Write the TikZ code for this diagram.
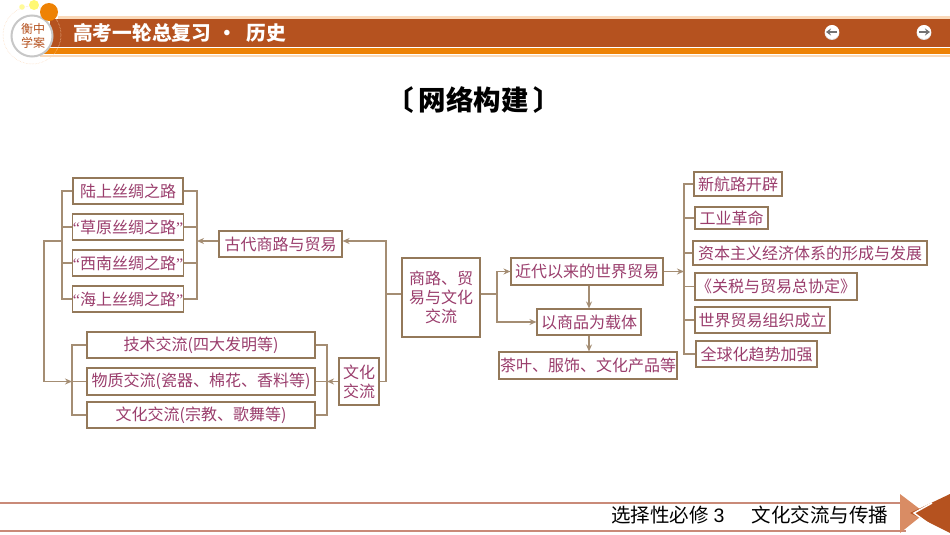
\documentclass[tikz,border=0pt]{standalone}
\usepackage{fontspec}
\setmainfont{Noto Sans CJK SC}
\newfontfamily\latinfont{Liberation Serif}
\newfontfamily\numberfont{Liberation Sans}
\usetikzlibrary{arrows.meta}
\definecolor{bandbrown}{HTML}{B5521F}
\definecolor{bandorange}{HTML}{EE8204}
\definecolor{bandpeach}{HTML}{FAD9B9}
\definecolor{footline}{HTML}{C98A78}
\definecolor{footlight}{HTML}{D98C64}
\definecolor{boxline}{HTML}{94795A}
\definecolor{boxtext}{HTML}{9A3D6C}
\tikzset{
	item/.style={draw=boxline, line width=1.1pt, fill=white, text=boxtext, inner sep=0pt, align=center,
		minimum width=#1, minimum height=26pt, font=\fontsize{16}{19}\selectfont},
	link/.style={draw=boxline!85, line width=1.2pt},
	linkarrow/.style={link, -{Stealth[length=7pt,width=6pt]}},
}
\def\quoteL{{\latinfont “}}
\def\quoteR{{\latinfont ”}}

\begin{document}
\begin{tikzpicture}[x=1pt, y=-1pt]
			%%%%% START %%%%%
			\useasboundingbox (0, 0) rectangle (950, 535);
			
			\fill[color=bandpeach] (58, 16) rectangle (950, 19);
			\fill[color=bandbrown] (50, 19) rectangle (950, 47);
			\fill[color=bandorange] (40, 48) rectangle (950, 54);
			\fill[color=bandpeach] (40, 55) rectangle (950, 57);
			
			\draw[color=bandpeach, line width=0.5pt, densely dotted] (32, 35) circle (29);
			\draw[color=black!22, line width=2pt, fill=white] (32, 36) circle (20.5);
			\fill[color=bandorange] (49, 12) circle (9);
			\fill[color=yellow!55] (34, 5) circle (5);
			\fill[color=yellow!40] (22, 7) circle (2.8);
			\node[text=bandbrown, align=center, inner sep=0pt, font=\fontsize{12}{14}\selectfont] (seal) at (33, 36) {衡中\\学案};
			
			\node[text=white, anchor=west, inner sep=0pt, font=\fontsize{19.7}{22}\selectfont\bfseries] (header) at (73, 33) {高考一轮总复习\hspace{6pt}·\hspace{10pt}历史};
			
			\fill[color=black!12] (832, 32.6) circle (7.4);
			\fill[color=white] (832, 32) circle (7);
			\draw[color=black!55, line width=1.6pt, -{Stealth[length=5pt,width=7pt]}] (837, 32) -- (826, 32);
			\fill[color=black!12] (924, 32.6) circle (7.4);
			\fill[color=white] (924, 32) circle (7);
			\draw[color=black!55, line width=1.6pt, -{Stealth[length=5pt,width=7pt]}] (919, 32) -- (930, 32);
			
			\node[inner sep=0pt, font=\fontsize{27.5}{30}\selectfont\bfseries] (heading) at (474, 100) {〔\hspace{5pt}网络构建\hspace{5pt}〕};
			
			% left side
			\node[item=110pt] (landroad) at (128, 191) {陆上丝绸之路};
			\node[item=110pt] (grassroad) at (128, 227) {\quoteL 草原丝绸之路\quoteR};
			\node[item=110pt] (westroad) at (128, 263) {\quoteL 西南丝绸之路\quoteR};
			\node[item=110pt] (searoad) at (128, 299) {\quoteL 海上丝绸之路\quoteR};
			\node[item=123pt] (ancient) at (280.5, 244) {古代商路与贸易};
			
			\node[item=228pt] (techex) at (201, 345) {技术交流(四大发明等)};
			\node[item=228pt, minimum height=27pt] (goodsex) at (201, 381.5) {物质交流(瓷器、棉花、香料等)};
			\node[item=228pt] (cultureex) at (201, 415) {文化交流(宗教、歌舞等)};
			\node[item=40pt, minimum height=47pt] (culture) at (359, 381.5) {文化\\交流};
			
			% middle
			\node[item=78pt, minimum height=79pt] (theme) at (441, 297.5) {商路、贸\\易与文化\\交流};
			\node[item=152pt, minimum height=27pt] (modern) at (587, 271.5) {近代以来的世界贸易};
			\node[item=104pt] (carrier) at (589, 322) {以商品为载体};
			\node[item=178pt, minimum height=27pt] (products) at (588, 365.5) {茶叶、服饰、文化产品等};
			
			% right side
			\node[item=88pt, minimum height=24pt] (sailing) at (738, 184) {新航路开辟};
			\node[item=73pt, minimum height=22pt] (industry) at (731.5, 218) {工业革命};
			\node[item=234pt, minimum height=24pt] (capital) at (810, 253) {资本主义经济体系的形成与发展};
			\node[item=162pt, minimum height=27pt] (gatt) at (776, 286.5) {《关税与贸易总协定》};
			\node[item=135pt] (wto) at (762.5, 320) {世界贸易组织成立};
			\node[item=121pt] (global) at (756.5, 354) {全球化趋势加强};
			
			\coordinate (ancientleft) at (62, 241);
			\coordinate (ancientright) at (197, 241);
			\coordinate (outertop) at (44, 241);
			\coordinate (outerbottom) at (44, 381.5);
			\coordinate (exleft) at (72, 381.5);
			\coordinate (exright) at (327, 381.5);
			\coordinate (spine) at (386, 294);
			\coordinate (themefork) at (497, 294);
			\coordinate (worldspine) at (684, 271.5);
			
			\draw[link] (landroad.west) -| (ancientleft);
			\draw[link] (searoad.west) -| (ancientleft);
			\draw[link] (grassroad.west) -- (grassroad.west -| ancientleft);
			\draw[link] (westroad.west) -- (westroad.west -| ancientleft);
			\draw[link] (landroad.east) -| (ancientright);
			\draw[link] (searoad.east) -| (ancientright);
			\draw[link] (grassroad.east) -- (grassroad.east -| ancientright);
			\draw[link] (westroad.east) -- (westroad.east -| ancientright);
			\draw[linkarrow] (ancient.west |- ancientright) -- (ancientright);
			
			\draw[link] (ancientleft) -- (outertop) -- (outerbottom);
			\draw[linkarrow] (outerbottom) -- (exleft);
			\draw[link] (exleft) -- (goodsex.west);
			\draw[link] (techex.west) -| (exleft);
			\draw[link] (cultureex.west) -| (exleft);
			
			\draw[link] (techex.east) -| (exright);
			\draw[link] (cultureex.east) -| (exright);
			\draw[link] (goodsex.east) -- (exright);
			\draw[linkarrow] (culture.west) -- (exright);
			
			\draw[link] (theme.west |- spine) -- (spine);
			\draw[link] (culture.east) -| (spine);
			\draw[linkarrow] (spine) |- (ancient.east |- ancientright);
			
			\draw[link] (theme.east |- themefork) -- (themefork);
			\draw[linkarrow] (themefork) |- (modern.west);
			\draw[linkarrow] (themefork) |- (carrier.west);
			\draw[linkarrow] (modern.south -| carrier.north) -- (carrier.north);
			\draw[linkarrow] (carrier.south) -- (carrier.south |- products.north);
			
			\draw[linkarrow] (modern.east) -- (worldspine);
			\draw[link] (sailing.west) -| (worldspine);
			\draw[link] (global.west) -| (worldspine);
			\draw[link] (industry.west) -- (industry.west -| worldspine);
			\draw[link] (capital.west) -- (capital.west -| worldspine);
			\draw[link] (gatt.west) -- (gatt.west -| worldspine);
			\draw[link] (wto.west) -- (wto.west -| worldspine);
			
			\fill[color=footline] (0, 502) rectangle (906, 504);
			\fill[color=footline] (0, 530) rectangle (906, 532);
			\node[text=black, anchor=west, inner sep=0pt, font=\fontsize{19.5}{22}\selectfont] (footer) at (611, 515.5) {选择性必修\hspace{5pt}{\numberfont 3}\hspace{27pt}文化交流与传播};
			
			\fill[color=footlight] (900, 494) -- (925, 513) -- (900, 533) -- cycle;
			\fill[color=bandbrown] (950, 494) -- (910, 513) -- (950, 533) -- cycle;
			\draw[color=white, line width=1.5pt] (932, 503) -- (914, 513) -- (932, 526);
			
			%%%%% END %%%%%
\end{tikzpicture}
\end{document}
